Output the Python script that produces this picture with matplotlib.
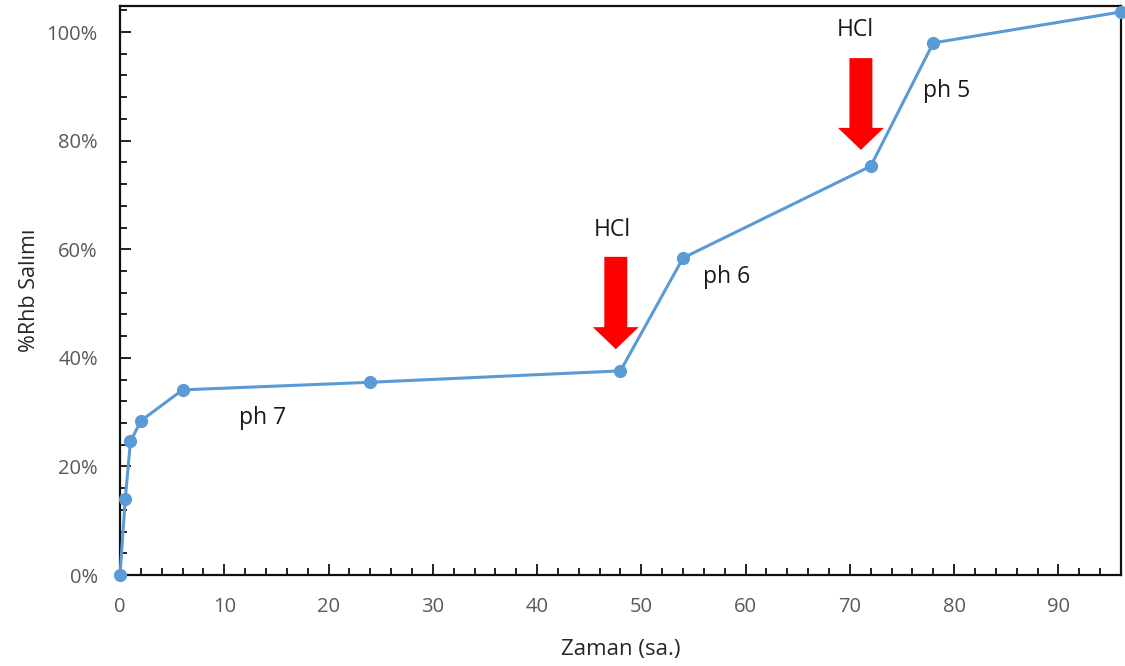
import matplotlib.pyplot as plt
from matplotlib.ticker import MultipleLocator, FuncFormatter

# release data (hours vs % Rhb released)
zaman = [0, 0.5, 1, 2, 6, 24, 48, 54, 72, 78, 96]
salim = [0, 14.0, 24.6, 28.4, 34.1, 35.5, 37.6, 58.4, 75.3, 98.0, 103.7]

# HCl addition arrows: x, top, tip
hcl_x = [47.55, 71.06]
hcl_top = [58.6, 95.2]
hcl_tip = [41.6, 78.3]
hcl_text_xy = [(47.2, 63.5), (70.5, 100.4)]

# pH region labels
ph_labels = ["ph 7", "ph 6", "ph 5"]
ph_xy = [(13.7, 28.9), (58.2, 54.9), (79.3, 89.1)]

plt.rcParams['font.family'] = ['Open Sans', 'DejaVu Sans']

fig = plt.figure(figsize=(11.25, 6.66), dpi=100)
ax = fig.add_axes([0.1067, 0.1366, 0.8897, 0.8544])

ax.plot(zaman, salim, color='#5B9BD5', linewidth=2.2, marker='o', markersize=8.5,
        zorder=3, clip_on=False)

for x, top, tip in zip(hcl_x, hcl_top, hcl_tip):
    ax.arrow(x, top, 0, tip - top, width=2.2, head_width=4.4, head_length=4.05,
             length_includes_head=True, color='#FF0000', linewidth=0, zorder=4)
for (x, y) in hcl_text_xy:
    ax.text(x, y, "HCl", fontsize=16.5, ha='center', va='center', color='#1a1a1a')

for lab, (x, y) in zip(ph_labels, ph_xy):
    ax.text(x, y, lab, fontsize=16.5, ha='center', va='center', color='#1a1a1a')

ax.set_xlim(0, 96)
ax.set_ylim(0, 104.8)
ax.xaxis.set_major_locator(MultipleLocator(10))
ax.xaxis.set_minor_locator(MultipleLocator(2))
ax.yaxis.set_major_locator(MultipleLocator(20))
ax.yaxis.set_minor_locator(MultipleLocator(4))
ax.yaxis.set_major_formatter(FuncFormatter(lambda v, p: f"{v:.0f}%"))

ax.tick_params(which='both', direction='in', colors='#111111', labelcolor='#595959', width=1.3)
ax.tick_params(which='major', length=8, labelsize=14.5)
ax.tick_params(which='minor', length=5)
ax.tick_params(axis='x', pad=16)
ax.tick_params(axis='y', pad=16)
for s in ax.spines.values():
    s.set_linewidth(1.6)
    s.set_color('#111111')

ax.set_xlabel("Zaman (sa.)", fontsize=16, color='#262626', labelpad=16)
ax.set_ylabel("%Rhb Salımı", fontsize=15.5, color='#262626', labelpad=5)

fig.savefig("out.png", dpi=100)
